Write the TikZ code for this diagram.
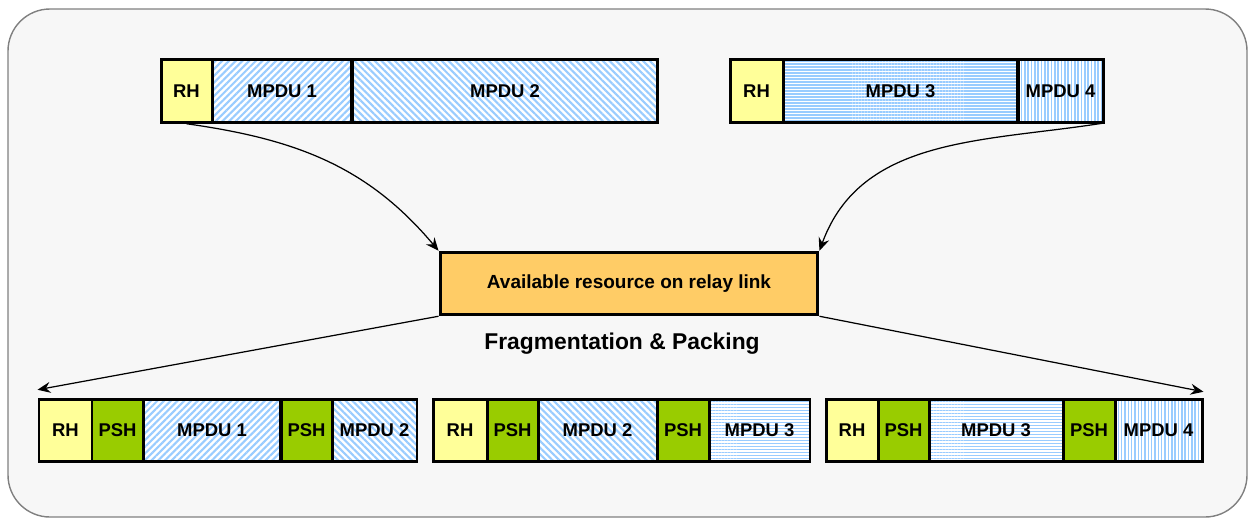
\documentclass[tikz,border=0pt]{standalone}
\usepackage{fontspec}
\setmainfont{Liberation Sans}
\usetikzlibrary{positioning,arrows.meta,patterns.meta}
\definecolor{rhyellow}{HTML}{FFFF99}
\definecolor{pshgreen}{HTML}{99CC00}
\definecolor{resorange}{HTML}{FFCC66}
\definecolor{hatchblue}{HTML}{99CCFF}
\definecolor{panelgray}{HTML}{F7F7F7}
\tikzset{
    field/.style = {
        draw,
        shape=rectangle,
        minimum height=1.25cm,
        inner sep=0pt,
        line width=1.7pt,
        font=\fontsize{10.5}{12}\selectfont\bfseries
    },
    rh/.style = {field, fill=rhyellow},
    psh/.style = {field, fill=pshgreen},
    hatch/.style = {field, preaction={fill=white}, pattern color=hatchblue},
    hatchne/.style = {hatch, pattern={Lines[angle=45,distance=2.7pt,line width=1.2pt]}},
    hatchnw/.style = {hatch, pattern={Lines[angle=-45,distance=2.7pt,line width=1.2pt]}},
    hatchh/.style = {hatch, pattern={Lines[angle=0,distance=1.7pt,line width=0.85pt]}},
    hatchv/.style = {hatch, pattern={Lines[angle=90,distance=1.9pt,line width=0.9pt]}},
    resource/.style = {
        field,
        fill=resorange,
        minimum width=7.56cm,
        font=\fontsize{10.8}{13}\selectfont\bfseries
    },
    panel/.style = {draw=gray, line width=0.8pt, fill=panelgray, rounded corners=0.84cm},
    >={Stealth[length=2.6mm, width=2.2mm, inset=0.9mm]},
}

\begin{document}
\begin{tikzpicture}[x=0.02cm, y=-0.02cm]
                \useasboundingbox (0,0) rectangle (1250,518);
                \path[panel] (8,9) rectangle (1247,517);

                % incoming frames
                \node[rh, minimum width=1.02cm] (rhtl) at (186.5,91) {RH};
                \node[hatchne, minimum width=2.8cm] (mpdu1) at (282,91) {MPDU 1};
                \node[hatchnw, minimum width=6.12cm] (mpdu2) at (505,91) {MPDU 2};
                \node[rh, minimum width=1.06cm] (rhtr) at (756.5,91) {RH};
                \node[hatchh, minimum width=4.7cm] (mpdu3) at (900.5,91) {MPDU 3};
                \node[hatchv, minimum width=1.7cm] (mpdu4) at (1060.5,91) {MPDU 4};

                \node[resource] (res) at (629,283.5) {Available resource on relay link};
                \node[font=\fontsize{13}{15}\selectfont\bfseries] (frag) at (622,344) {Fragmentation \& Packing};

                % relay frames
                \node[rh, minimum width=1.06cm] (rha) at (65.5,430.5) {RH};
                \node[psh, minimum width=1.02cm] (psha) at (117.5,430.5) {PSH};
                \node[hatchne, minimum width=2.76cm] (fa1) at (212,430.5) {MPDU 1};
                \node[psh, minimum width=1.02cm] (pshb) at (306.5,430.5) {PSH};
                \node[hatchnw, minimum width=1.7cm] (fa2) at (374.5,430.5) {MPDU 2};

                \node[rh, minimum width=1.08cm] (rhb) at (460,430.5) {RH};
                \node[psh, minimum width=1.02cm] (pshc) at (512.5,430.5) {PSH};
                \node[hatchnw, minimum width=2.38cm] (fb2) at (597.5,430.5) {MPDU 2};
                \node[psh, minimum width=1.04cm] (pshd) at (683,430.5) {PSH};
                \node[hatchh, minimum width=2.02cm] (fb3) at (759.5,430.5) {MPDU 3};

                \node[rh, minimum width=1.04cm] (rhc) at (852,430.5) {RH};
                \node[psh, minimum width=1.02cm] (pshe) at (903.5,430.5) {PSH};
                \node[hatchh, minimum width=2.68cm] (fc3) at (996,430.5) {MPDU 3};
                \node[psh, minimum width=1.04cm] (pshf) at (1089,430.5) {PSH};
                \node[hatchv, minimum width=1.74cm] (fc4) at (1158.5,430.5) {MPDU 4};

                \coordinate (tipl) at ([yshift=0.16cm]rha.north west);
                \coordinate (tipr) at ([yshift=0.12cm]fc4.north east);

                \path[draw, line width=0.7pt, ->] (rhtl.south) to[out=-8, in=130] (res.north west);
                \path[draw, line width=0.7pt, ->] (mpdu4.south east) to[out=-171, in=70] (res.north east);
                \path[draw, line width=0.7pt, ->] (res.south west) -- (tipl);
                \path[draw, line width=0.7pt, ->] (res.south east) -- (tipr);
\end{tikzpicture}
\end{document}
